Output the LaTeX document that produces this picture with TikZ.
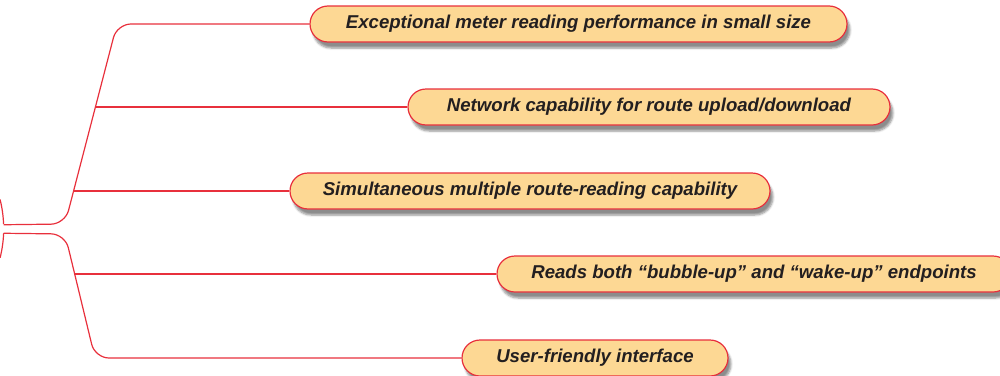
\documentclass[tikz,border=0pt]{standalone}
\usepackage{fontspec}
\setmainfont{Liberation Sans}
\usetikzlibrary{shadows.blur}
\definecolor{rline}{HTML}{E8303C}
\definecolor{pfill}{HTML}{FDD894}
\definecolor{ptext}{HTML}{231F20}
\begin{document}
\begin{tikzpicture}[x=1pt,y=-1pt,
  pill/.style={draw=rline, line width=1.2pt, fill=pfill, rounded corners=18pt,
    minimum height=36pt, inner sep=0pt, text=ptext,
    font=\fontsize{18.6}{22}\selectfont\bfseries\itshape,
    blur shadow={shadow xshift=3pt, shadow yshift=-6pt, shadow blur steps=6, shadow opacity=45}},
  conn/.style={draw=rline, line width=1.2pt, rounded corners=14pt}]
\useasboundingbox (0,0) rectangle (1000,375);

% root (mostly off the picture)
\node[circle, minimum size=244pt, inner sep=0pt] (root) at (-118.5,229) {};
\draw[rline, line width=1.2pt] (root.14) arc[start angle=14, end angle=2.35, radius=122pt];
\draw[rline, line width=1.2pt] (root.-2.35) arc[start angle=-2.35, end angle=-14, radius=122pt];

% nodes
\node[pill, minimum width=537pt] (n1) at (578.5,24) {Exceptional meter reading performance in small size};
\node[pill, minimum width=482pt] (n2) at (649,107) {Network capability for route upload/download};
\node[pill, minimum width=480pt] (n3) at (530,191) {Simultaneous multiple route-reading capability};
\node[pill, minimum width=514pt] (n4) at (754,274) {Reads both “bubble-up” and “wake-up” endpoints};
\node[pill, minimum width=266pt] (n5) at (595,358) {User-friendly interface};

% branch points
\coordinate (ta) at (65,224);
\coordinate (tb) at (117,24);
\coordinate (t2) at (95.4,107);
\coordinate (t3) at (73.6,191);
\coordinate (ba) at (65,234);
\coordinate (bb) at (95,358);
\coordinate (b4) at (74.7,274);

% connectors
\draw[conn] (root.2.35) -- (ta) -- (tb) -- (n1.west);
\draw[conn] (root.-2.35) -- (ba) -- (bb) -- (n5.west);
\draw[conn] (t2) -- (n2.west);
\draw[conn] (t3) -- (n3.west);
\draw[conn] (b4) -- (n4.west);
\end{tikzpicture}
\end{document}
